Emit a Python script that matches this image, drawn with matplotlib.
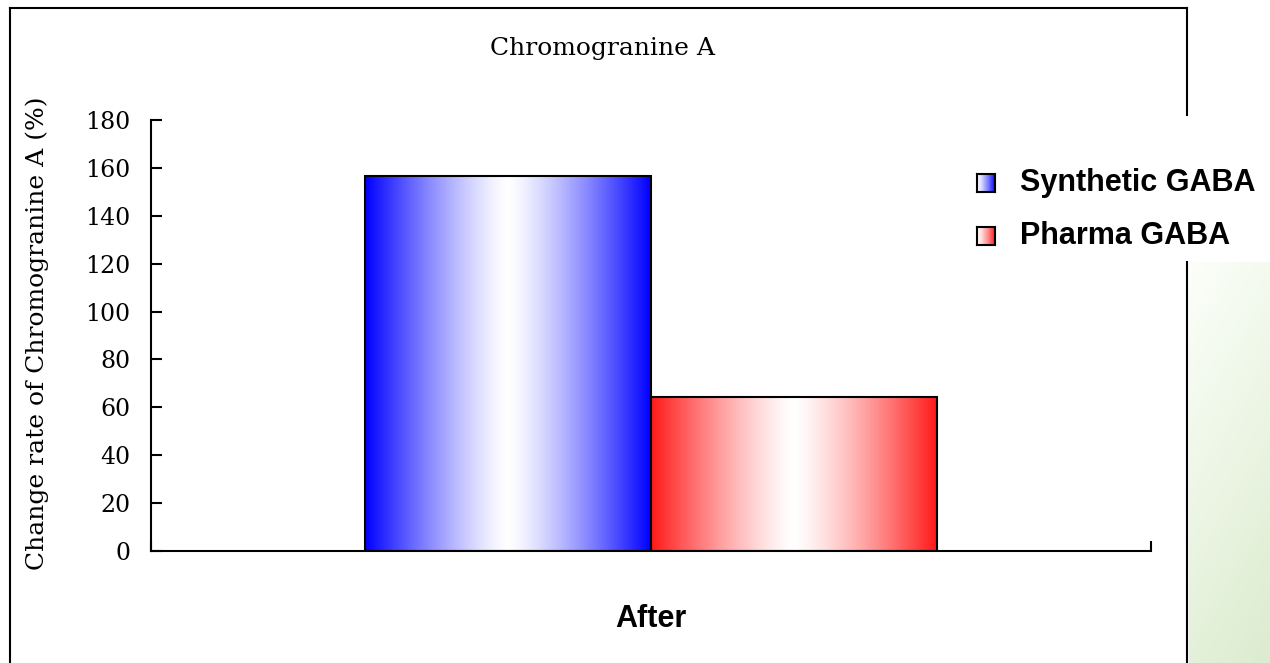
import numpy as np
import matplotlib
matplotlib.use('Agg')
from matplotlib import pyplot as plt
from matplotlib.lines import Line2D

# data
categories = ['After']
series_names = ['Synthetic GABA', 'Pharma GABA']
series_values = [156.5, 64.3]
series_colors = [(0.0, 0.0, 1.0), (1.0, 0.1, 0.1)]
y_ticks = [0, 20, 40, 60, 80, 100, 120, 140, 160, 180]

W, H = 1270, 663
fig = plt.figure(figsize=(W / 100, H / 100), dpi=100)
serif = 'DejaVu Serif'
sans = 'Liberation Sans'


def fx(px):
    return px / W


def fy(py):
    return 1 - py / H


def gradient(rgb, n=256):
    t = np.abs(np.linspace(-1, 1, n)) ** 1.3
    white = np.ones(3)
    cols = white[None, :] * (1 - t[:, None]) + np.array(rgb)[None, :] * t[:, None]
    return cols[None, :, :]


ax = fig.add_axes([fx(151), fy(551), fx(1151) - fx(151), fy(120) - fy(551)])

width = 1 / 3.5
offsets = [-width / 2, width / 2]
for name, val, col, off in zip(series_names, series_values, series_colors, offsets):
    bar = ax.bar(0 + off, val, width=width, facecolor='none', edgecolor='black',
                 linewidth=1.5, zorder=3)[0]
    x0, w, h = bar.get_x(), bar.get_width(), bar.get_height()
    ax.imshow(gradient(col), extent=[x0, x0 + w, 0, h], aspect='auto', zorder=2,
              interpolation='bilinear')
ax.set_xlim(-0.5, 0.5)
ax.set_ylim(0, 180)

for s in ['top', 'right']:
    ax.spines[s].set_visible(False)
for s in ['left', 'bottom']:
    ax.spines[s].set_linewidth(1.5)

ax.set_yticks(y_ticks)
ax.tick_params(axis='y', direction='in', length=8, width=1.5, pad=15, labelsize=17)
for lab in ax.get_yticklabels():
    lab.set_fontfamily(serif)
ax.set_xticks([0])
ax.set_xticklabels(categories, fontfamily=sans, fontweight='bold', fontsize=22)
ax.tick_params(axis='x', length=0, pad=38)
ax.set_xticks([-0.5, 0.5], minor=True)
ax.tick_params(axis='x', which='minor', direction='in', length=7, width=1.5)

fig.text(fx(602), fy(48), 'Chromogranine A', ha='center', va='center',
         fontfamily=serif, fontsize=18)
fig.text(fx(37), fy(333), 'Change rate of Chromogranine A (%)', ha='center', va='center',
         rotation=90, fontfamily=serif, fontsize=18)

# outer frame
lw = 1.5
fig.add_artist(Line2D([fx(10), fx(10)], [fy(8), 0], color='black', lw=lw))
fig.add_artist(Line2D([fx(10), fx(1187)], [fy(8), fy(8)], color='black', lw=lw))
fig.add_artist(Line2D([fx(1187), fx(1187)], [fy(8), fy(115)], color='black', lw=lw))
fig.add_artist(Line2D([fx(1187), fx(1187)], [fy(262), 0], color='black', lw=lw))

# green panel on the right
gx = fig.add_axes([fx(1189), 0, 1 - fx(1189), fy(262)])
yy, xx = np.mgrid[0:1:200j, 0:1:60j]
t = np.clip(0.75 * yy + 0.25 * xx, 0, 1)
top = np.array([0.99, 1.0, 0.98])
bot = np.array([0.86, 0.925, 0.81])
img = top[None, None, :] * (1 - t[..., None]) + bot[None, None, :] * t[..., None]
gx.imshow(img, aspect='auto', extent=[0, 1, 0, 1], origin='upper')
gx.axis('off')

# legend
legend_y = [183, 236]
for name, col, ly in zip(series_names, series_colors, legend_y):
    sq = fig.add_axes([fx(977), fy(ly + 9), fx(18), fy(0) - fy(18)])
    sq.imshow(np.concatenate([gradient(col, 32)[:, 16:]] * 4, axis=0), aspect='auto',
              extent=[0, 1, 0, 1])
    sq.set_xticks([])
    sq.set_yticks([])
    for s in sq.spines.values():
        s.set_linewidth(1.5)
    fig.text(fx(1020), fy(ly), name, ha='left', va='center', fontfamily=sans,
             fontweight='bold', fontsize=22)

fig.savefig('out.png', dpi=100)
